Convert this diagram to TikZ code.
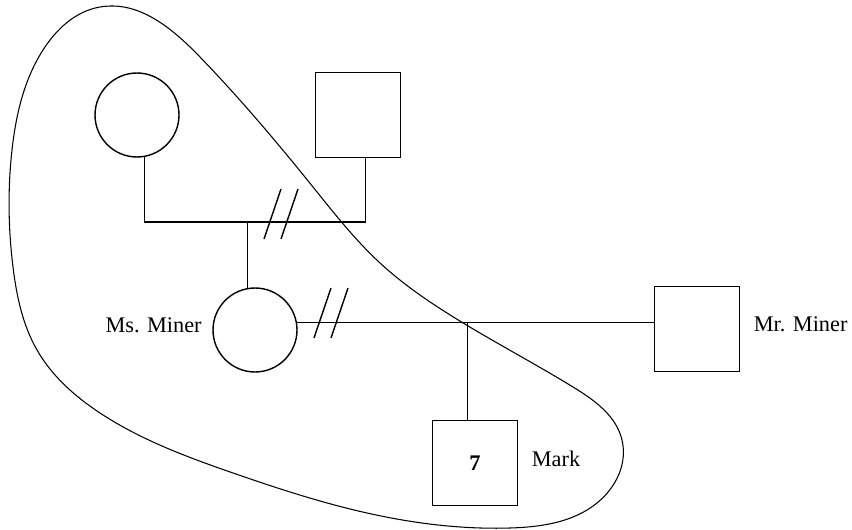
\documentclass[tikz,border=0pt]{standalone}
\usepackage{fontspec}
\setmainfont{Liberation Serif}
\usetikzlibrary{positioning,hobby}
\tikzset{>=stealth}
\tikzset{
    female/.style={draw,circle,minimum size=1.68cm,inner sep=0pt},
    male/.style={draw,rectangle,minimum size=1.7cm,inner sep=0pt},
    tag/.style={font=\fontsize{12.7}{15}\selectfont,inner sep=0pt,yshift=.09cm}
}

\begin{document}
\begin{tikzpicture}[x=.02cm,y=-.02cm,line width=.8pt]
    \useasboundingbox (0,0) rectangle (852,530);

    \node[female] (gm) at (137,115) {};
    \node[male] (gp) at (358,115) {};
    \node[female] (msm) at (255,330) {};
    \node[male] (mrm) at (697,329) {};
    \node[male,font=\bfseries\fontsize{12.7}{15}\selectfont] (mark) at (475,463) {7};

    \node[tag,left=.2cm of msm] (msmname) {Ms. Miner};
    \node[tag,right=.26cm of mrm] (mrmname) {Mr. Miner};
    \node[tag,right=.26cm of mark] (markname) {Mark};

    \coordinate (bar) at (0,222);
    \coordinate (sib) at (msm.100 |- bar);
    \draw[] (gm.-80) |- (sib) -| (gp.-80);
    \draw[] (sib) -- (msm.100);

    \draw[] (msm.10) -- (mrm.west |- msm.10);
    \draw[] (mark.100) -- (mark.100 |- msm.10);

    % divorce marks
    \foreach \dx in {0,17} {
        \draw[] (264+\dx,239) -- (281+\dx,189);
        \draw[] (314+\dx,338) -- (331+\dx,288);
    }

    % household
    \draw[line width=.6pt,use Hobby shortcut,closed=true]
        (100,7) .. (200,57) .. (313,187) .. (380,263) .. (447,313)
        .. (573,387) .. (622,440) .. (597,503) .. (510,528) .. (367,513)
        .. (233,473) .. (100,413) .. (37,350) .. (13,267) .. (12,150)
        .. (43,50);
\end{tikzpicture}
\end{document}
